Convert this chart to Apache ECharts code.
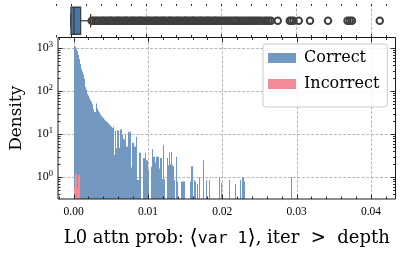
<!DOCTYPE html>
<html><head><meta charset="utf-8">
<script src="https://cdn.jsdelivr.net/npm/echarts@6/dist/echarts.min.js"></script>
<style>html,body{margin:0;padding:0;background:#fff}#c{width:400px;height:256px}</style>
</head><body><div id="c"></div>
<script>
// ---- data ----
const seriesNames = ['Correct', 'Incorrect'];
const binStart = 0;
const binWidth = 0.000133;
const correctDensity = [
  1150, 1100, 950, 850, 700, 560, 430, 330, 290, 245,
  190, 195, 125, 108, 86, 80, 70, 61, 58, 49,
  38, 33, 33, 52, 40, 35, 32, 29, 27, 25,
  24, 22, 21, 20, 19, 18, 17, 16, 15, 14,
  15, 3.3, 12, 4.7, 12.6, 12, 4.8, 13, 13, 9.6,
  8, 7.5, 10, 5.2, 5.2, 11.5, 11, 11.5, 1.7, 6.4,
  6.4, 5.2, 5.2, 8.8, 0.87, 0.87, 3.7, 3.7, 0, 0,
  2.8, 2.8, 3.7, 2.5, 2.5, 1.5, 0, 0, 1.76, 4.5,
  3, 3, 2.2, 3, 3, 3, 1.6, 2.8, 2.8, 0.9,
  5.6, 0.9, 0, 0, 2.8, 1.9, 3.7, 2.0, 1.6, 3.9,
  1.9, 1.8, 0.87, 0, 3.0, 0.8, 0, 0, 0, 0.8,
  0.8, 0.8, 0.8, 0, 0, 0, 0, 0, 0.8, 1.8,
  1.8, 0, 0.85, 0.8, 0, 0.7, 0, 1.0, 0, 0,
  0, 2.5, 0, 0, 0.85, 0, 0, 0.85, 0, 0,
  0, 0, 0, 0, 0, 0, 0, 1.0, 0, 0.75,
  0, 0, 0, 0, 0, 0, 0, 0.87, 0, 0,
  0, 0, 0, 0.7, 0, 0, 0, 0, 0.87, 0,
  1.0, 1.0, 0.8, 0, 0, 0, 0, 0, 0, 0,
  0, 0, 0, 0, 0, 0, 0, 0, 0, 0,
  0, 0, 0, 0, 0, 0, 0, 0, 0, 0,
  0, 0, 0, 0, 0, 0, 0, 0, 0, 0,
  0, 0, 0, 0, 0, 0, 0, 0, 0, 0,
  1.0
];
const incorrectDensity = [0.6, 1.17, 1.17, 0.57, 1.13, 1.13];
const boxStats = [0.0, 0.00003, 0.00043, 0.00132, 0.00265];
const outliers = [
  0.0028, 0.0030, 0.0033, 0.0035, 0.0038, 0.0041, 0.0043, 0.0045, 0.0048, 0.0051,
  0.0053, 0.0055, 0.0058, 0.0061, 0.0063, 0.0065, 0.0068, 0.0071, 0.0073, 0.0075,
  0.0078, 0.0081, 0.0083, 0.0085, 0.0088, 0.0091, 0.0093, 0.0095, 0.0098, 0.0101,
  0.0103, 0.0105, 0.0108, 0.0111, 0.0113, 0.0115, 0.0118, 0.0121, 0.0123, 0.0125,
  0.0128, 0.0131, 0.0133, 0.0135, 0.0138, 0.0141, 0.0143, 0.0145, 0.0148, 0.0151,
  0.0153, 0.0155, 0.0158, 0.0161, 0.0163, 0.0165, 0.0168, 0.0171, 0.0173, 0.0175,
  0.0178, 0.0181, 0.0183, 0.0185, 0.0188, 0.0191, 0.0193, 0.0195, 0.0198, 0.0201,
  0.0204, 0.0207, 0.0210, 0.0213, 0.0216, 0.0219, 0.0221, 0.0224, 0.0227, 0.0230,
  0.0233, 0.0236, 0.0239, 0.0242, 0.0245, 0.0248, 0.0251, 0.0254, 0.0258, 0.0261,
  0.0264, 0.0267, 0.0276, 0.0292, 0.0294, 0.0297, 0.0304, 0.0319, 0.0343, 0.0369,
  0.0372, 0.0375, 0.0412
];
const xMin = -0.0021, xMax = 0.0433;
const yMin = 0.313, yMax = 1780;
const xMajorTicks = [0, 0.01, 0.02, 0.03, 0.04];
const xMinorTicks = [-0.002, 0.002, 0.004, 0.006, 0.008, 0.012, 0.014, 0.016, 0.018,
  0.022, 0.024, 0.026, 0.028, 0.032, 0.034, 0.036, 0.038, 0.042];
const yMajorTicks = [1, 10, 100, 1000];
const yMinorTicks = [0.4, 0.5, 0.6, 0.7, 0.8, 0.9, 2, 3, 4, 5, 6, 7, 8, 9,
  20, 30, 40, 50, 60, 70, 80, 90, 200, 300, 400, 500, 600, 700, 800, 900];
const xAxisTitle = ['L0 attn prob: ', '⟨', 'var 1', '⟩', ', iter  >  depth'];
const yAxisTitle = 'Density';

// ---- styles ----
const BLUE = '#7399c1', PINK = '#f28b98', BOXBLUE = '#4a77a6';
const INK = '#1a1a1a', EDGE = '#3f3f3f';
const GRIDC = '#9a9a9a';

function binItems(vals) {
  const out = [];
  vals.forEach((v, i) => { if (v > 0) out.push([binStart + i * binWidth, binStart + (i + 1) * binWidth, v]); });
  return out;
}
function barRender(color) {
  return function (params, api) {
    const x0 = api.value(0), x1 = api.value(1), v = api.value(2);
    const pTop = api.coord([x0, v]);
    const pEnd = api.coord([x1, yMin]);
    const L = Math.round(pTop[0]), R = Math.max(Math.round(pEnd[0]), L + 1);
    return { type: 'rect', shape: { x: L, y: pTop[1], width: R - L, height: pEnd[1] - pTop[1] },
      style: { fill: color } };
  };
}
function boxRender(params, api) {
  const cy = api.coord([0, 0])[1];
  const X = k => api.coord([api.value(k), 0])[0];
  const lo = X(0), q1 = X(1), md = X(2), q3 = X(3), hi = X(4);
  const half = 13.5, cap = 6.75;
  const st = { stroke: EDGE, lineWidth: 1.3 };
  return { type: 'group', children: [
    { type: 'line', shape: { x1: lo, y1: cy, x2: q1, y2: cy }, style: st },
    { type: 'line', shape: { x1: q3, y1: cy, x2: hi, y2: cy }, style: st },
    { type: 'line', shape: { x1: lo, y1: cy - cap, x2: lo, y2: cy + cap }, style: st },
    { type: 'line', shape: { x1: hi, y1: cy - cap, x2: hi, y2: cy + cap }, style: st },
    { type: 'rect', shape: { x: q1, y: cy - half, width: q3 - q1, height: 2 * half }, style: { fill: BOXBLUE, stroke: EDGE, lineWidth: 1.3 } },
    { type: 'line', shape: { x1: md, y1: cy - half, x2: md, y2: cy + half }, style: st }
  ] };
}
const xTickData = xMajorTicks.map(v => [v, 1, 1]).concat(xMinorTicks.map(v => [v, 1, 0]));
const yTickData = yMajorTicks.map(v => [0, v, 1]).concat(yMinorTicks.map(v => [0, v, 0]));
const lineStyle = { stroke: INK, lineWidth: 0.9 };
const dashStyle = { stroke: GRIDC, lineWidth: 0.7, lineDash: [3, 1.6] };

const option = {
  animation: false,
  grid: [
    { left: 55, right: 4.5, top: 37.5, bottom: 57 },
    { left: 55, right: 4.5, top: 4, height: 33.5 }
  ],
  xAxis: [
    { type: 'value', gridIndex: 0, min: xMin, max: xMax,
      axisLine: { show: false }, axisTick: { show: false }, splitLine: { show: false },
      axisLabel: { margin: 7, fontFamily: 'Liberation Serif', fontSize: 11.5, color: '#000',
        showMinLabel: false, showMaxLabel: false,
        formatter: v => Math.abs(v / 0.01 - Math.round(v / 0.01)) < 1e-6 ? Math.abs(v).toFixed(2) : '' },
      name: '{a|' + xAxisTitle[0] + '}{b|' + xAxisTitle[1] + '}{m|' + xAxisTitle[2] + '}{b|' + xAxisTitle[3] + '}{a|' + xAxisTitle[4] + '}',
      nameLocation: 'middle', nameGap: 29,
      nameTextStyle: { rich: {
        a: { fontFamily: 'DejaVu Serif', fontSize: 18, color: '#000' },
        b: { fontFamily: 'DejaVu Sans', fontSize: 21, color: '#000' },
        m: { fontFamily: 'DejaVu Sans Mono', fontSize: 16.5, color: '#000' }
      } } },
    { type: 'value', gridIndex: 1, min: xMin, max: xMax, show: false, splitLine: { show: false } }
  ],
  yAxis: [
    { type: 'log', logBase: 10, gridIndex: 0, min: yMin, max: yMax,
      axisLine: { show: false }, axisTick: { show: false }, splitLine: { show: false }, minorTick: { show: false },
      axisLabel: { margin: 5, color: '#000', showMinLabel: false, showMaxLabel: false,
        formatter: v => { const l = Math.log10(v), e = Math.round(l); return Math.abs(l - e) < 0.01 ? '{b|10}{s|' + e + '}' : ''; },
        rich: { b: { fontFamily: 'Liberation Serif', fontSize: 12, color: '#000' },
                s: { fontFamily: 'Liberation Serif', fontSize: 8.5, color: '#000', padding: [0, 0, 7, 0] } } },
      name: yAxisTitle, nameLocation: 'middle', nameGap: 33,
      nameTextStyle: { fontFamily: 'DejaVu Serif', fontSize: 17, color: '#000' } },
    { type: 'category', gridIndex: 1, data: ['all'], show: false }
  ],
  legend: {
    data: seriesNames, orient: 'vertical', left: 263, top: 44,
    itemWidth: 28, itemHeight: 10, itemGap: 6, padding: [4, 8, 13, 5],
    backgroundColor: 'rgba(255,255,255,0.85)', borderColor: '#cccccc', borderWidth: 1, borderRadius: 3,
    icon: 'rect', selectedMode: false,
    textStyle: { fontFamily: 'DejaVu Serif', fontSize: 16, color: '#000', lineHeight: 20, padding: [0, 0, 0, 3] }
  },
  series: [
    // gridlines main
    { type: 'custom', xAxisIndex: 0, yAxisIndex: 0, silent: true, z: 0, encode: { x: 0, y: 1 },
      data: xMajorTicks.map(v => [v, 1]),
      renderItem: (params, api) => { const cs = params.coordSys; const x = Math.round(api.coord([api.value(0), 1])[0]) + 0.5;
        return { type: 'line', shape: { x1: x, y1: cs.y, x2: x, y2: cs.y + cs.height }, style: dashStyle }; } },
    { type: 'custom', xAxisIndex: 0, yAxisIndex: 0, silent: true, z: 0, encode: { x: 0, y: 1 },
      data: yMajorTicks.map(v => [0, v]),
      renderItem: (params, api) => { const cs = params.coordSys; const y = Math.round(api.coord([0, api.value(1)])[1]) + 0.5;
        return { type: 'line', shape: { x1: cs.x, y1: y, x2: cs.x + cs.width, y2: y }, style: dashStyle }; } },
    // gridlines strip
    { type: 'custom', xAxisIndex: 1, yAxisIndex: 1, silent: true, z: 0, encode: { x: 0, y: 1 },
      data: xMajorTicks.map(v => [v, 0]),
      renderItem: (params, api) => { const cs = params.coordSys; const x = Math.round(api.coord([api.value(0), 0])[0]) + 0.5;
        return { type: 'line', shape: { x1: x, y1: cs.y, x2: x, y2: cs.y + cs.height }, style: dashStyle }; } },
    // histograms
    { name: 'Correct', type: 'custom', xAxisIndex: 0, yAxisIndex: 0, z: 2, itemStyle: { color: BLUE },
      encode: { x: [0, 1], y: 2 }, data: binItems(correctDensity), renderItem: barRender(BLUE) },
    { name: 'Incorrect', type: 'custom', xAxisIndex: 0, yAxisIndex: 0, z: 3, itemStyle: { color: PINK },
      encode: { x: [0, 1], y: 2 }, data: binItems(incorrectDensity), renderItem: barRender(PINK) },
    // boxplot strip
    { type: 'custom', xAxisIndex: 1, yAxisIndex: 1, z: 3, silent: true, encode: { x: [0, 1, 2, 3, 4] },
      data: [boxStats], renderItem: boxRender },
    { type: 'scatter', xAxisIndex: 1, yAxisIndex: 1, z: 4, symbol: 'circle', symbolSize: 6.5, silent: true,
      data: outliers.map(v => [v, 0]),
      itemStyle: { color: 'rgba(255,255,255,0)', borderColor: EDGE, borderWidth: 2, opacity: 1 } },
    // ticks main
    { type: 'custom', xAxisIndex: 0, yAxisIndex: 0, silent: true, z: 10, encode: { x: 0, y: 1 },
      data: xTickData,
      renderItem: (params, api) => { const cs = params.coordSys; const x = Math.round(api.coord([api.value(0), 1])[0]) + 0.5;
        const len = api.value(2) ? 4.5 : 2.5; const b = cs.y + cs.height;
        return { type: 'group', children: [
          { type: 'line', shape: { x1: x, y1: b, x2: x, y2: b - len }, style: lineStyle },
          { type: 'line', shape: { x1: x, y1: cs.y, x2: x, y2: cs.y + len }, style: lineStyle } ] }; } },
    { type: 'custom', xAxisIndex: 0, yAxisIndex: 0, silent: true, z: 10, encode: { x: 0, y: 1 },
      data: yTickData,
      renderItem: (params, api) => { const cs = params.coordSys; const y = Math.round(api.coord([0, api.value(1)])[1]) + 0.5;
        const len = api.value(2) ? 4.5 : 2.5; const r = cs.x + cs.width;
        return { type: 'group', children: [
          { type: 'line', shape: { x1: cs.x, y1: y, x2: cs.x + len, y2: y }, style: lineStyle },
          { type: 'line', shape: { x1: r, y1: y, x2: r - len, y2: y }, style: lineStyle } ] }; } },
    // frame main
    { type: 'custom', xAxisIndex: 0, yAxisIndex: 0, silent: true, z: 11, encode: { x: 0, y: 1 },
      data: [[0, 1]],
      renderItem: (params) => { const cs = params.coordSys;
        return { type: 'rect', shape: { x: cs.x, y: cs.y, width: cs.width, height: cs.height },
          style: { fill: 'none', stroke: INK, lineWidth: 1 } }; } },
    // ticks strip
    { type: 'custom', xAxisIndex: 1, yAxisIndex: 1, silent: true, z: 10, encode: { x: 0, y: 1 },
      data: xTickData.map(d => [d[0], 0, d[2]]),
      renderItem: (params, api) => { const cs = params.coordSys; const x = Math.round(api.coord([api.value(0), 0])[0]) + 0.5;
        const b = cs.y + cs.height; const len = api.value(2) ? 3.5 : 2.5;
        return { type: 'group', children: [
          { type: 'line', shape: { x1: x, y1: b, x2: x, y2: b - len }, style: lineStyle },
          { type: 'line', shape: { x1: x, y1: cs.y, x2: x, y2: cs.y + 2 }, style: lineStyle } ] }; } }
  ]
};
const chart = echarts.init(document.getElementById('c'), null, { renderer: 'canvas' });
chart.setOption(option);
</script></body></html>
